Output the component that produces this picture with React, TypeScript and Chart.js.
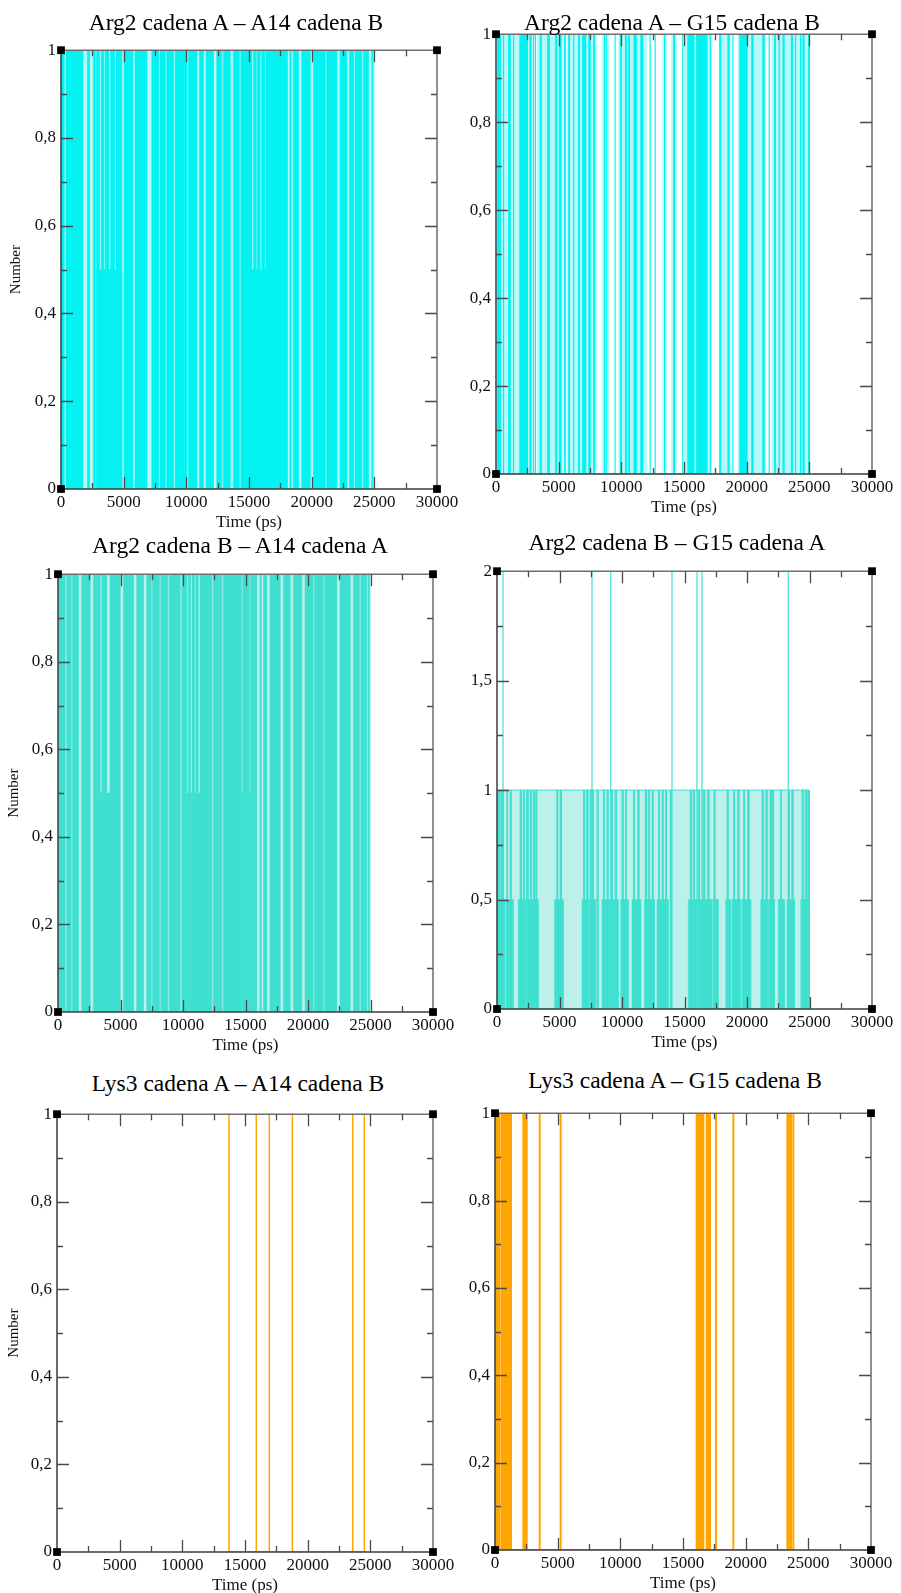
import React, { useEffect, useRef } from 'react';
import { Chart, registerables } from 'chart.js';

Chart.register(...registerables);

type Span = [number, number];
type Pt = { x: number; y: number };

const FONT = '"Liberation Serif", "DejaVu Serif", "Times New Roman", serif';

// Axis ticks
const timeTicks = [0, 5000, 10000, 15000, 20000, 25000, 30000];
const timeMinor = [2500, 7500, 12500, 17500, 22500, 27500];
const unitTicks = [0, 0.2, 0.4, 0.6, 0.8, 1];
const unitMinor = [0.1, 0.3, 0.5, 0.7, 0.9];
const unitLabels = ['0', '0,2', '0,4', '0,6', '0,8', '1'];
const pairTicks = [0, 0.5, 1, 1.5, 2];
const pairMinor = [0.25, 0.75, 1.25, 1.75];
const pairLabels = ['0', '0,5', '1', '1,5', '2'];

const panelTitles = [
  'Arg2 cadena A – A14 cadena B',
  'Arg2 cadena A – G15 cadena B',
  'Arg2 cadena B – A14 cadena A',
  'Arg2 cadena B – G15 cadena A',
  'Lys3 cadena A – A14 cadena B',
  'Lys3 cadena A – G15 cadena B',
];

// Arg2 cadena A – A14 cadena B : periods with the bond present (ps)
const arg2aA14bSolid: Span[] = [
  [0, 240], [400, 1730], [2100, 2260], [2580, 2720], [2830, 3050], [3200, 3400],
  [3520, 3800], [3950, 4250], [4380, 4840], [5030, 5720], [5900, 6840], [7240, 7770],
  [7900, 8300], [8430, 8960], [9100, 10030], [10160, 10830], [11040, 11360], [11570, 12160],
  [12420, 12820], [12950, 13490], [13750, 14220], [14340, 15210], [15350, 15550], [15650, 15880],
  [16010, 16250], [16350, 18050], [18250, 18350], [18520, 18940], [19200, 19870],
  [20140, 21070], [21200, 22000], [22260, 22800], [23010, 23330], [23460, 23990], [24120, 24520],
  [24790, 24880],
];
const arg2aA14bLower: Span[] = [[2830, 4840], [14900, 16600]];
const arg2aA14bSparse: Span[] = [[0, 25000]];

// Arg2 cadena A – G15 cadena B
const arg2aG15bSparse: Span[] = [
  [0, 2900], [3300, 5300], [5700, 8000], [8500, 9000], [9800, 12000], [13300, 13600],
  [14000, 14400], [15000, 17200], [17800, 18700], [19300, 21500], [22000, 25000],
];
const arg2aG15bSolid: Span[] = [
  [120, 360], [1000, 1120], [1900, 2500], [2700, 2780], [3520, 3600], [4120, 4240],
  [4740, 4840], [5050, 5170], [5450, 5510], [5790, 5870], [6580, 6660], [6900, 7150],
  [7400, 7500], [7780, 7860], [9920, 9980], [10320, 10380], [10580, 10640], [11000, 11180],
  [11550, 11700], [14170, 14230], [15300, 15780], [16000, 16820], [17840, 17920], [18500, 18580],
  [19450, 20020], [20400, 20500], [21280, 21380], [22220, 22300], [22890, 22970], [23550, 23630],
  [24480, 24560], [24940, 25000],
];
const arg2aG15bSingles: number[] = [
  600, 1400, 3000, 3150, 6200, 8650, 8800, 9500, 12300, 12700, 13450, 14900,
  17100, 18900, 21800, 22600, 23900, 24300,
];

// Arg2 cadena B – A14 cadena A
const arg2bA14aSolid: Span[] = [
  [0, 560], [700, 1040], [1150, 1620], [1890, 2560], [2830, 3360], [3500, 3890],
  [4160, 4960], [5230, 6030], [6290, 6830], [7090, 7440], [7560, 8100], [8220, 8770],
  [8890, 9760], [9900, 10300], [10420, 10600], [10720, 10900], [11020, 11200], [11360, 12300],
  [12420, 13100], [13220, 14650], [14770, 15300], [15400, 15890], [16150, 16250], [16430, 16690],
  [16960, 17760], [18030, 18560], [18830, 19490], [19760, 20400], [20520, 21200], [21320, 22290],
  [22560, 23360], [23630, 24100], [24220, 24690], [24800, 24900],
];
const arg2bA14aLower: Span[] = [[3360, 4160], [10300, 11360], [14650, 15400]];
const arg2bA14aSparse: Span[] = [[0, 25000]];

// Arg2 cadena B – G15 cadena A
const arg2bG15aSparse: Span[] = [[0, 25000]];
const arg2bG15aLower: Span[] = [
  [0, 600], [700, 1300], [1700, 2300], [2400, 3300], [4600, 5300], [6800, 7300],
  [7400, 7900], [8400, 9000], [9100, 9700], [9900, 10500], [10800, 11500], [11800, 12600],
  [12800, 13700], [15300, 16000], [16100, 17200], [17300, 17700], [18300, 18700], [18800, 19500],
  [19600, 20300], [21100, 21600], [21700, 22200], [22500, 23000], [23200, 23800], [24300, 24950],
];
const arg2bG15aSolid: Span[] = [
  [100, 180], [300, 380], [440, 500], [780, 840], [1050, 1120], [1850, 1950],
  [2100, 2180], [2350, 2480], [2650, 2720], [2900, 3000], [3100, 3170], [4780, 4850],
  [5050, 5150], [6920, 7000], [7150, 7260], [7450, 7520], [7620, 7700], [8000, 8080],
  [8520, 8600], [8800, 8880], [9150, 9220], [9450, 9560], [10000, 10080], [10280, 10360],
  [10920, 11000], [11250, 11350], [11860, 11940], [12100, 12200], [12400, 12480], [12920, 13000],
  [13200, 13280], [13480, 13560], [13860, 13940], [15460, 15560], [15700, 15800], [16100, 16200],
  [16500, 16620], [16850, 16950], [17350, 17430], [18400, 18480], [18920, 19000], [19250, 19350],
  [19720, 19800], [20050, 20150], [21200, 21300], [21500, 21600], [21850, 21950], [22020, 22100],
  [22680, 22760], [23320, 23400], [23580, 23680], [24400, 24480], [24650, 24750], [24850, 24920],
];
const arg2bG15aDouble: number[] = [480, 7600, 9100, 14000, 16000, 16400, 23300];

// Lys3 cadena A – A14 cadena B
const lys3aA14bSingles: number[] = [13720, 15900, 16940, 18780, 23600, 24520];

// Lys3 cadena A – G15 cadena B
const lys3aG15bSingles: number[] = [
  80, 185, 345, 532, 665, 798, 931, 1064, 1197, 1277, 2261, 2394, 2527, 3564, 5240,
  16093, 16226, 16359, 16492, 16625, 16891, 17024, 17157, 17636, 19019,
  23327, 23461, 23620, 23806,
];

const CYAN = '#05f2f2';
const CYAN_PALE = '#b9f8f8';
const TURQ = '#40e0d0';
const TURQ_PALE = '#bdf0ea';
const ORANGE = '#ffa500';

interface Layer {
  label: string;
  spans?: Span[];
  times?: number[];
  height: number;
  fillColor?: string;
  lineColor: string;
  lineWidth: number;
}

interface PanelSpec {
  title: string;
  titleX: number;
  titleY: number;
  l: number;
  t: number;
  r: number;
  b: number;
  axisW: number;
  yMax: number;
  yTicks: number[];
  yMinor: number[];
  yLabels: string[];
  yTitle: boolean;
  layers: Layer[];
}

const PAD_TOP = 14;
const PAD_RIGHT = 30;
const X_AXIS_H = 44;

function spanPoints(spans: Span[], h: number): Pt[] {
  const pts: Pt[] = [];
  for (const [s, e] of spans) {
    pts.push({ x: s, y: 0 }, { x: s, y: h }, { x: e, y: h }, { x: e, y: 0 });
  }
  return pts;
}

function linePoints(times: number[], h: number): Pt[] {
  const pts: Pt[] = [];
  for (const t of times) pts.push({ x: t, y: 0 }, { x: t, y: h }, { x: t, y: 0 });
  return pts;
}

const panels: PanelSpec[] = [
  {
    title: panelTitles[0], titleX: 236, titleY: 22,
    l: 61, t: 49, r: 437, b: 489, axisW: 54,
    yMax: 1, yTicks: unitTicks, yMinor: unitMinor, yLabels: unitLabels, yTitle: true,
    layers: [
      { label: 'sparse', spans: arg2aA14bSparse, height: 1, fillColor: CYAN_PALE, lineColor: CYAN_PALE, lineWidth: 0.5 },
      { label: 'lower', spans: arg2aA14bLower, height: 0.5, fillColor: CYAN, lineColor: CYAN, lineWidth: 0.5 },
      { label: 'solid', spans: arg2aA14bSolid, height: 1, fillColor: CYAN, lineColor: CYAN, lineWidth: 0.5 },
    ],
  },
  {
    title: panelTitles[1], titleX: 672, titleY: 22,
    l: 496, t: 33, r: 872, b: 474, axisW: 45,
    yMax: 1, yTicks: unitTicks, yMinor: unitMinor, yLabels: unitLabels, yTitle: false,
    layers: [
      { label: 'sparse', spans: arg2aG15bSparse, height: 1, fillColor: CYAN_PALE, lineColor: CYAN_PALE, lineWidth: 0.5 },
      { label: 'solid', spans: arg2aG15bSolid, height: 1, fillColor: CYAN, lineColor: CYAN, lineWidth: 0.8 },
      { label: 'single', times: arg2aG15bSingles, height: 1, lineColor: CYAN, lineWidth: 1.2 },
    ],
  },
  {
    title: panelTitles[2], titleX: 240, titleY: 545,
    l: 58, t: 573, r: 433, b: 1012, axisW: 53,
    yMax: 1, yTicks: unitTicks, yMinor: unitMinor, yLabels: unitLabels, yTitle: true,
    layers: [
      { label: 'sparse', spans: arg2bA14aSparse, height: 1, fillColor: TURQ_PALE, lineColor: TURQ_PALE, lineWidth: 0.5 },
      { label: 'lower', spans: arg2bA14aLower, height: 0.5, fillColor: TURQ, lineColor: TURQ, lineWidth: 0.5 },
      { label: 'solid', spans: arg2bA14aSolid, height: 1, fillColor: TURQ, lineColor: TURQ, lineWidth: 0.5 },
    ],
  },
  {
    title: panelTitles[3], titleX: 677, titleY: 542,
    l: 497, t: 570, r: 872, b: 1009, axisW: 45,
    yMax: 2, yTicks: pairTicks, yMinor: pairMinor, yLabels: pairLabels, yTitle: false,
    layers: [
      { label: 'sparse', spans: arg2bG15aSparse, height: 1, fillColor: TURQ_PALE, lineColor: TURQ, lineWidth: 1 },
      { label: 'lower', spans: arg2bG15aLower, height: 0.5, fillColor: TURQ, lineColor: TURQ, lineWidth: 0.5 },
      { label: 'solid', spans: arg2bG15aSolid, height: 1, fillColor: TURQ, lineColor: TURQ, lineWidth: 0.8 },
      { label: 'double', times: arg2bG15aDouble, height: 2, lineColor: TURQ, lineWidth: 1.2 },
    ],
  },
  {
    title: panelTitles[4], titleX: 238, titleY: 1083,
    l: 57, t: 1113, r: 433, b: 1552, axisW: 52,
    yMax: 1, yTicks: unitTicks, yMinor: unitMinor, yLabels: unitLabels, yTitle: true,
    layers: [
      { label: 'single', times: lys3aA14bSingles, height: 1, lineColor: ORANGE, lineWidth: 1.5 },
    ],
  },
  {
    title: panelTitles[5], titleX: 675, titleY: 1080,
    l: 495, t: 1112, r: 871, b: 1550, axisW: 45,
    yMax: 1, yTicks: unitTicks, yMinor: unitMinor, yLabels: unitLabels, yTitle: false,
    layers: [
      { label: 'single', times: lys3aG15bSingles, height: 1, lineColor: ORANGE, lineWidth: 2 },
    ],
  },
];

// Frame with inward ticks on all four sides, drawn just before the corner markers
function makeFramePlugin(spec: PanelSpec) {
  return {
    id: 'xmFrame',
    beforeDatasetDraw(chart: any, args: any) {
      const ds = chart.data.datasets[args.index];
      if (!ds || ds.label !== 'corners') return;
      const { ctx, chartArea } = chart;
      const { left, right, top, bottom } = chartArea;
      const xs = chart.scales.x;
      const ys = chart.scales.y;
      ctx.save();
      ctx.lineWidth = 1.5;
      ctx.strokeStyle = '#3c3c3c';
      ctx.beginPath();
      ctx.moveTo(left, top);
      ctx.lineTo(left, bottom);
      ctx.lineTo(right, bottom);
      ctx.stroke();
      ctx.strokeStyle = '#6e6e6e';
      ctx.beginPath();
      ctx.moveTo(left, top);
      ctx.lineTo(right, top);
      ctx.lineTo(right, bottom);
      ctx.stroke();

      ctx.lineWidth = 1.3;
      ctx.strokeStyle = '#4a4a4a';
      const major = 12;
      const minor = 6;
      ctx.beginPath();
      const xTick = (v: number, len: number) => {
        const px = Math.round(xs.getPixelForValue(v)) + 0.5;
        ctx.moveTo(px, bottom);
        ctx.lineTo(px, bottom - len);
        ctx.moveTo(px, top);
        ctx.lineTo(px, top + len);
      };
      const yTick = (v: number, len: number) => {
        const py = Math.round(ys.getPixelForValue(v)) + 0.5;
        ctx.moveTo(left, py);
        ctx.lineTo(left + len, py);
        ctx.moveTo(right, py);
        ctx.lineTo(right - len, py);
      };
      timeTicks.slice(1, -1).forEach((v) => xTick(v, major));
      timeMinor.forEach((v) => xTick(v, minor));
      spec.yTicks.slice(1, -1).forEach((v) => yTick(v, major));
      spec.yMinor.forEach((v) => yTick(v, minor));
      ctx.stroke();
      ctx.restore();
    },
  };
}

function Panel({ spec }: { spec: PanelSpec }) {
  const ref = useRef<HTMLCanvasElement | null>(null);
  const cw = spec.axisW + (spec.r - spec.l) + PAD_RIGHT;
  const chH = PAD_TOP + (spec.b - spec.t) + X_AXIS_H;

  useEffect(() => {
    if (!ref.current) return;
    const layerSets = spec.layers.map((ly, i) => ({
      type: 'line' as const,
      label: ly.label,
      data: ly.spans ? spanPoints(ly.spans, ly.height) : linePoints(ly.times || [], ly.height),
      borderColor: ly.lineColor,
      backgroundColor: ly.fillColor || 'transparent',
      borderWidth: ly.lineWidth,
      fill: ly.spans ? 'origin' : false,
      pointRadius: 0,
      tension: 0,
      order: 100 - i,
    }));
    const corners = {
      type: 'scatter' as const,
      label: 'corners',
      data: [
        { x: 0, y: 0 },
        { x: 0, y: spec.yMax },
        { x: 30000, y: 0 },
        { x: 30000, y: spec.yMax },
      ],
      pointStyle: 'rect',
      pointRadius: 5.5,
      backgroundColor: '#000',
      borderColor: '#000',
      borderWidth: 0,
      showLine: false,
      clip: false,
      order: 0,
    };

    const chart = new Chart(ref.current, {
      type: 'line',
      data: { datasets: [corners, ...layerSets] as any },
      options: {
        animation: false,
        responsive: false,
        events: [],
        layout: { padding: { top: PAD_TOP, right: PAD_RIGHT, left: 0, bottom: 0 } },
        plugins: {
          legend: { display: false },
          tooltip: { enabled: false },
          title: { display: false },
        },
        scales: {
          x: {
            type: 'linear',
            min: 0,
            max: 30000,
            grid: { display: false, drawTicks: false },
            border: { display: false },
            afterBuildTicks: (axis: any) => {
              axis.ticks = timeTicks.map((v) => ({ value: v }));
            },
            afterFit: (axis: any) => {
              axis.height = X_AXIS_H;
            },
            ticks: {
              autoSkip: false,
              maxRotation: 0,
              minRotation: 0,
              padding: 3,
              color: '#111',
              font: { family: FONT, size: 17 },
              callback: (v: any) => String(v),
            },
            title: {
              display: true,
              text: 'Time (ps)',
              color: '#111',
              font: { family: FONT, size: 17 },
              padding: 0,
            },
          },
          y: {
            type: 'linear',
            min: 0,
            max: spec.yMax,
            grid: { display: false, drawTicks: false },
            border: { display: false },
            afterBuildTicks: (axis: any) => {
              axis.ticks = spec.yTicks.map((v) => ({ value: v }));
            },
            afterFit: (axis: any) => {
              axis.width = spec.axisW;
            },
            ticks: {
              autoSkip: false,
              padding: 5,
              color: '#111',
              font: { family: FONT, size: 17 },
              callback: (v: any) => {
                const k = spec.yTicks.findIndex((t) => Math.abs(t - Number(v)) < 1e-9);
                return k >= 0 ? spec.yLabels[k] : '';
              },
            },
            title: {
              display: spec.yTitle,
              text: 'Number',
              color: '#111',
              font: { family: FONT, size: 15 },
              padding: 0,
            },
          },
        },
      } as any,
      plugins: [makeFramePlugin(spec)],
    });
    return () => chart.destroy();
  }, [spec]);

  return (
    <>
      <canvas
        ref={ref}
        width={cw}
        height={chH}
        style={{
          position: 'absolute',
          left: spec.l - spec.axisW,
          top: spec.t - PAD_TOP,
          width: cw,
          height: chH,
        }}
      />
      <div
        style={{
          position: 'absolute',
          left: spec.titleX - 250,
          top: spec.titleY - 14,
          width: 500,
          height: 28,
          lineHeight: '28px',
          textAlign: 'center',
          fontFamily: FONT,
          fontSize: '23.5px',
          color: '#000',
          whiteSpace: 'nowrap',
          zIndex: 2,
          pointerEvents: 'none',
        }}
      >
        {spec.title}
      </div>
    </>
  );
}

export default function App() {
  return (
    <div
      style={{
        position: 'absolute',
        left: 0,
        top: 0,
        width: 901,
        height: 1593,
        overflow: 'hidden',
        background: '#fff',
      }}
    >
      {panels.map((p, i) => (
        <Panel key={i} spec={p} />
      ))}
    </div>
  );
}
